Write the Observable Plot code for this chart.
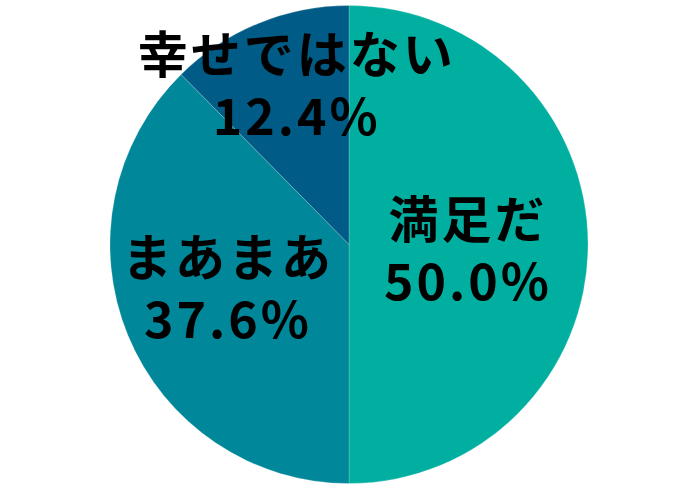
<!DOCTYPE html>
<html><head><meta charset="utf-8">
<script src="https://cdn.jsdelivr.net/npm/d3@7"></script>
<script src="https://cdn.jsdelivr.net/npm/@observablehq/plot@0.6"></script>
<style>
body{margin:0;background:#fff;}
#chart svg text{letter-spacing:3px;}
</style>
</head><body><div id="chart"></div>
<script>
const categories = ["満足だ", "まあまあ", "幸せではない"];
const values = [50.0, 37.6, 12.4];
const colors = ["#00AFA0", "#00879A", "#005B86"];

const data = categories.map((c, i) => ({name: c, value: values[i], color: colors[i]}));
const arcs = d3.pie().sort(null).value(d => d.value)(data);

// label placement style: distance from centre (fraction of radius) and small pixel nudges
const R_PX = 239;
const labelRadius = v => v >= 45 ? 0.5 : v >= 25 ? 0.55 : 0.68;
const labelNudge = {"満足だ": [-1, 8], "まあまあ": [0, -4], "幸せではない": [9, -7]};
const labels = arcs.map(a => {
  const m = (a.startAngle + a.endAngle) / 2;
  const r = labelRadius(a.data.value);
  const [nx, ny] = labelNudge[a.data.name] || [0, 0];
  return {x: r * Math.sin(m) + nx / R_PX, y: r * Math.cos(m) - ny / R_PX,
          name: a.data.name, pct: a.data.value.toFixed(1) + "%"};
});

function pieMark(index, scales) {
  const cx = scales.x(0), cy = scales.y(0);
  const R = Math.abs(scales.x(1) - scales.x(0));
  const g = d3.create("svg:g").attr("transform", `translate(${cx},${cy})`);
  const arc = d3.arc().innerRadius(0).outerRadius(R);
  g.selectAll("path").data(arcs).join("path")
    .attr("d", arc)
    .attr("fill", d => d.data.color)
    .attr("stroke", "#ffffff")
    .attr("stroke-opacity", 0.2)
    .attr("stroke-width", 1);
  return g.node();
}

const chart = Plot.plot({
  width: 700,
  height: 491,
  margin: 0,
  style: {fontFamily: "'Noto Sans CJK JP', 'Noto Sans', sans-serif", background: "#fff"},
  x: {domain: [-1, 1], range: [349 - R_PX, 349 + R_PX], axis: null},
  y: {domain: [-1, 1], range: [244.5 + R_PX, 244.5 - R_PX], axis: null},
  marks: [
    pieMark,
    Plot.text(labels, {x: "x", y: "y", text: "name", dy: -31, fontSize: 50, fontWeight: "bold", fill: "#000"}),
    Plot.text(labels, {x: "x", y: "y", text: "pct", dy: 31, fontSize: 50, fontWeight: "bold", fill: "#000"})
  ]
});
document.getElementById("chart").appendChild(chart);
</script>
</body></html>
